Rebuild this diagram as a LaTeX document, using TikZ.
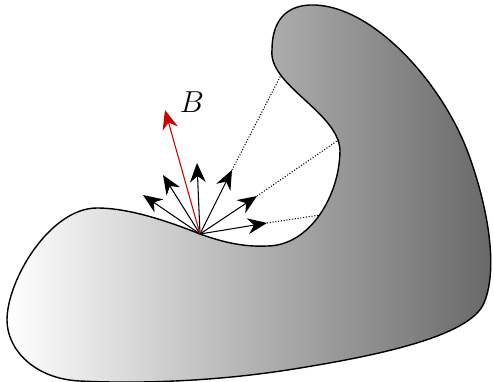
\documentclass[tikz,border=0pt]{standalone}
\usetikzlibrary{arrows.meta}
\tikzset{
  vec/.style={line width=0.6pt,-{Stealth[length=11pt,width=9pt]}},
  ray/.style={line width=0.6pt,densely dotted},
}
\begin{document}
\begin{tikzpicture}[x=0.02cm,y=-0.02cm]
\useasboundingbox (0,0) rectangle (494,382);
% base point and arrow tips
\coordinate (O) at (200,234);
\coordinate (a1) at (143,195);
\coordinate (a2) at (163,175);
\coordinate (a3) at (197,163);
\coordinate (b) at (165,110);
\coordinate (a4) at (232,170);
\coordinate (a5) at (257,196);
\coordinate (a6) at (267,223);
% hit points on the wall
\coordinate (h4) at (281,75);
\coordinate (h5) at (340,139);
\coordinate (h6) at (320,215);
% body
\draw[line width=0.8pt,left color=white,right color=black!60]
  (O) .. controls (225,243) and (245,247) .. (267,246)
  .. controls (310,246) and (340,195) .. (340,150)
  .. controls (338,112) and (268,85) .. (272,50)
  .. controls (272,22) and (285,6) .. (310,5)
  .. controls (370,3) and (440,80) .. (467,150)
  .. controls (485,197) and (500,265) .. (484,303)
  .. controls (470,336) and (380,355) .. (300,368)
  .. controls (204,384) and (120,383) .. (80,381)
  .. controls (35,379) and (7,350) .. (7,320)
  .. controls (7,280) and (50,208) .. (97,208)
  .. controls (130,208) and (170,222) .. (O) -- cycle;
\draw[ray] (a4) -- (h4);
\draw[ray] (a5) -- (h5);
\draw[ray] (a6) -- (h6);
\draw[vec] (O) -- (a1);
\draw[vec] (O) -- (a2);
\draw[vec] (O) -- (a3);
\draw[vec] (O) -- (a4);
\draw[vec] (O) -- (a5);
\draw[vec] (O) -- (a6);
\draw[vec,draw=red!80!black] (O) -- (b);
\node (B) at (192,102) {\fontsize{16}{18}\selectfont $B$};
\end{tikzpicture}
\end{document}
